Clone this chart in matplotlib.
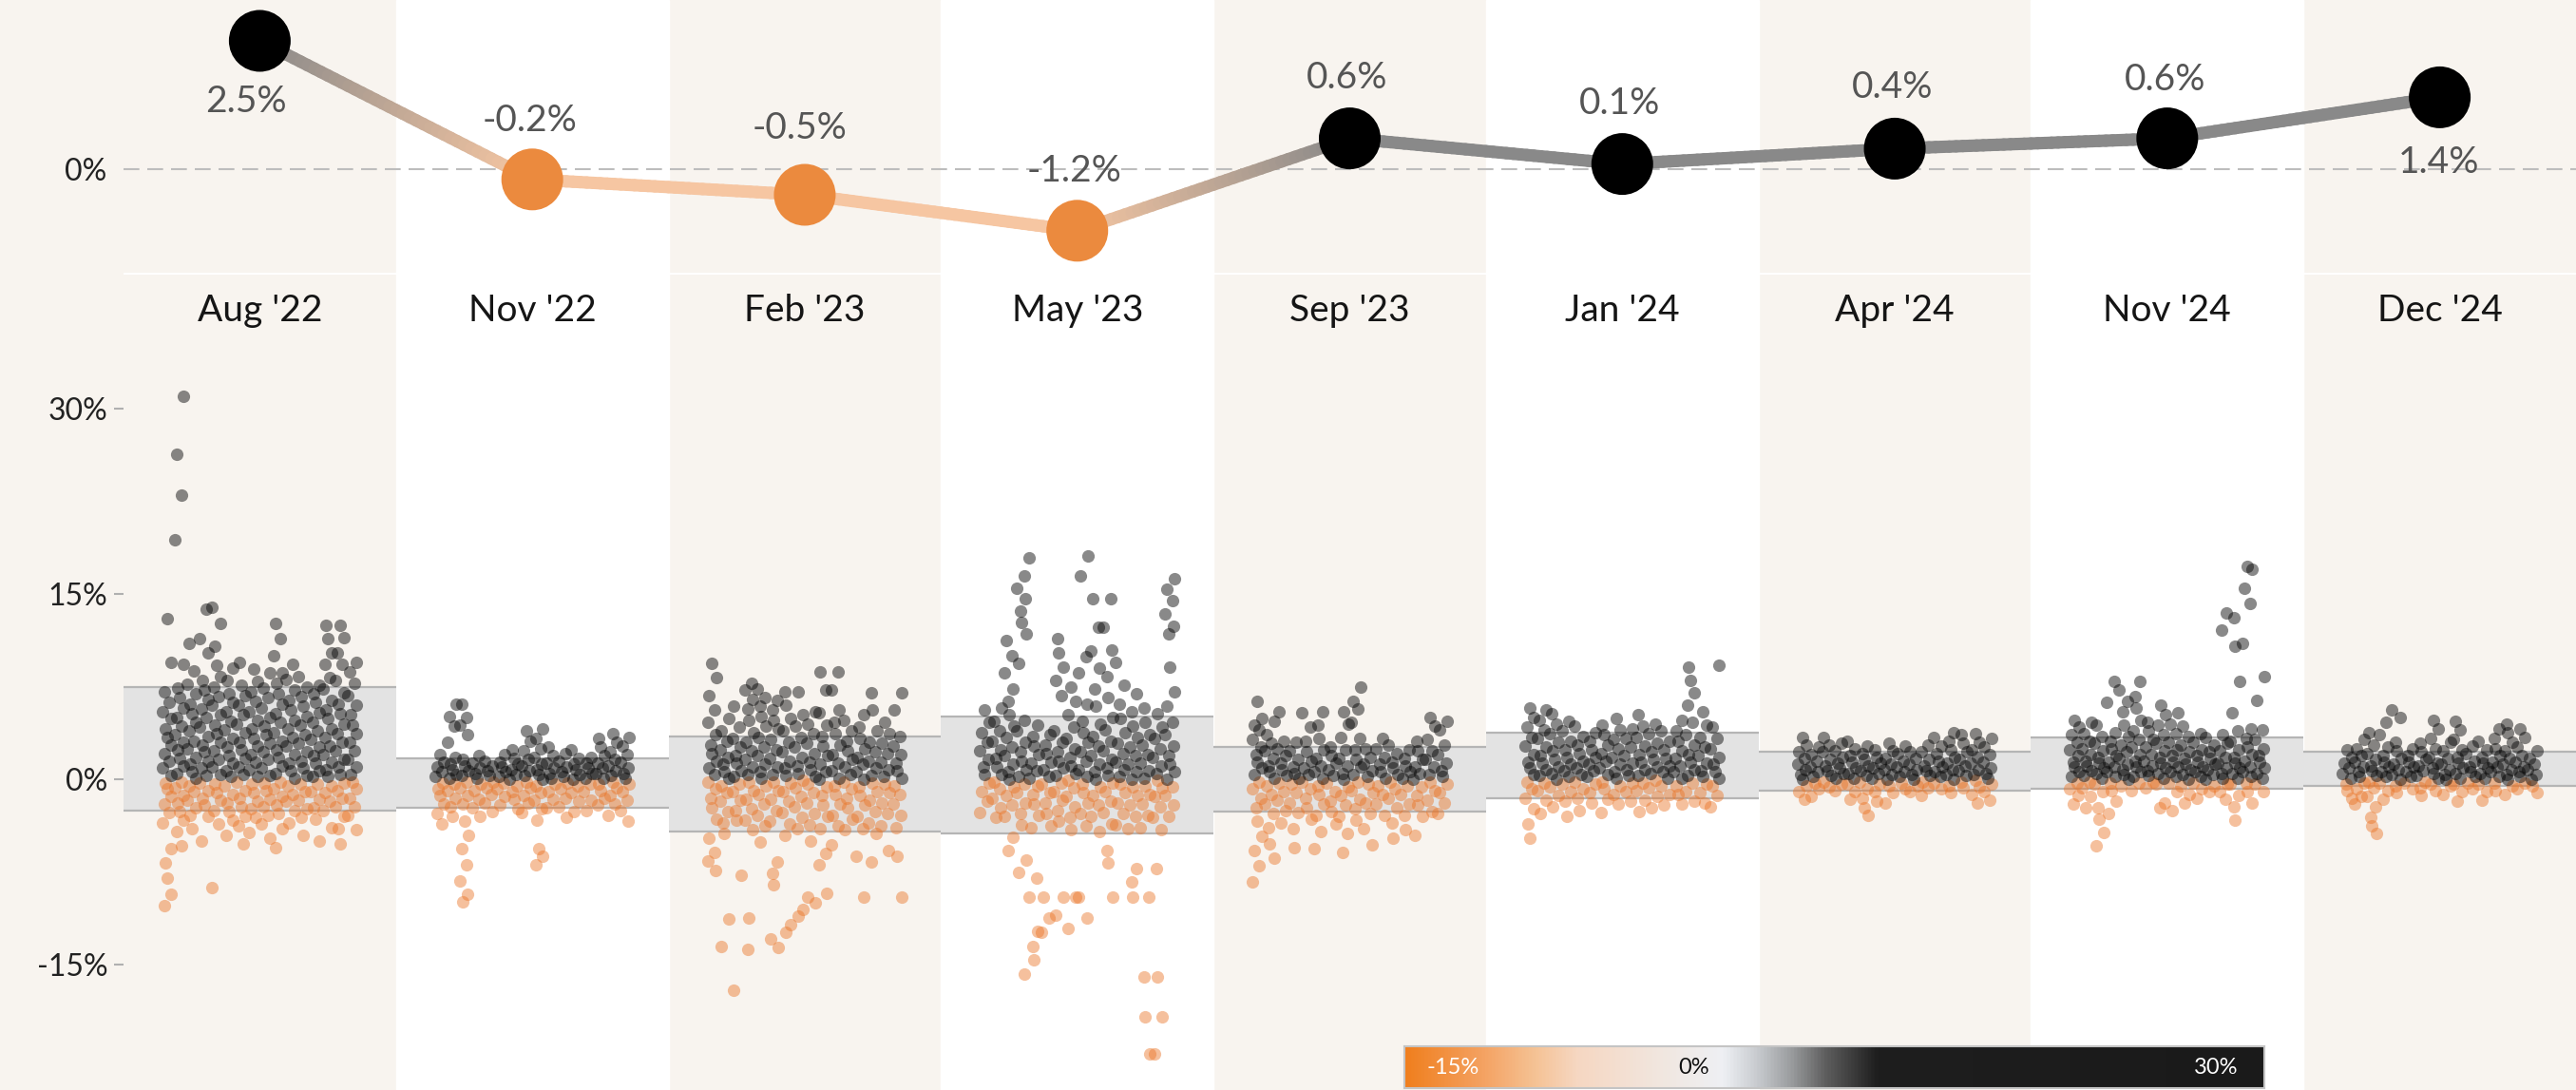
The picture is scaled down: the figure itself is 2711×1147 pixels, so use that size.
import numpy as np
import matplotlib
matplotlib.use('Agg')
import matplotlib.pyplot as plt
from matplotlib.collections import LineCollection
from matplotlib.colors import LinearSegmentedColormap, to_rgb

plt.rcParams['font.family'] = ['Lato', 'DejaVu Sans']

# ---- data -------------------------------------------------------------
months = ["Aug '22", "Nov '22", "Feb '23", "May '23", "Sep '23",
          "Jan '24", "Apr '24", "Nov '24", "Dec '24"]
change = [2.5, -0.2, -0.5, -1.2, 0.6, 0.1, 0.4, 0.6, 1.4]

# grey band per release (upper / lower edge, %)
box_top = [7.5, 1.7, 3.5, 5.1, 2.6, 3.8, 2.2, 3.4, 2.2]
box_bottom = [-2.5, -2.3, -4.2, -4.4, -2.6, -1.5, -0.9, -0.8, -0.5]

# individual changes (%), one list per vertical streak, left to right
aug22 = [
    [13.0, 9.5, 7.1, 6.2, 5.5, 4.9, 4.1, 3.4, 2.8, 2.1, 1.5, 0.9, 0.3, -0.3, -0.8, -1.4, -2.0, -2.7, -3.5, -5.6, -6.8, -8.0, -9.3, -10.2],
    [31.0, 26.3, 23.0, 19.4, 9.3, 7.4, 6.6, 5.8, 5.0, 4.3, 3.6, 3.0, 2.4, 1.7, 1.1, 0.5, -0.2, -0.7, -1.3, -1.9, -2.6, -3.3, -4.2, -5.4],
    [11.0, 8.8, 7.7, 6.9, 6.1, 5.3, 4.6, 3.9, 3.1, 2.5, 1.8, 1.2, 0.6, 0.1, -0.5, -1.0, -1.7, -2.3, -2.9, -4.0],
    [13.8, 11.4, 10.2, 8.0, 7.2, 6.5, 5.7, 5.0, 4.2, 3.5, 2.8, 2.2, 1.5, 0.9, 0.3, -0.3, -0.9, -1.5, -2.1, -3.0, -5.0],
    [13.9, 12.6, 10.8, 9.2, 8.3, 7.5, 6.7, 6.0, 5.2, 4.4, 3.7, 3.0, 2.3, 1.6, 1.0, 0.4, -0.4, -1.1, -1.7, -2.5, -3.6, -8.8],
    [9.0, 8.0, 6.9, 6.2, 5.5, 4.7, 4.0, 3.3, 2.6, 1.9, 1.3, 0.7, 0.2, -0.5, -1.2, -1.9, -2.6, -3.3, -4.5],
    [9.5, 7.6, 6.8, 6.0, 5.2, 4.5, 3.8, 3.0, 2.4, 1.7, 1.0, 0.4, -0.2, -0.9, -1.5, -2.2, -3.0, -3.8, -5.2],
    [8.9, 7.9, 7.1, 6.3, 5.5, 4.8, 4.1, 3.3, 2.7, 2.0, 1.4, 0.8, 0.2, -0.4, -1.1, -1.8, -2.4, -3.1, -4.3],
    [8.6, 7.4, 6.6, 5.8, 5.0, 4.3, 3.6, 2.9, 2.2, 1.6, 0.9, 0.3, -0.3, -0.9, -1.6, -2.2, -2.9, -3.6, -4.8],
    [12.6, 11.4, 10.0, 8.6, 7.8, 6.9, 6.1, 5.3, 4.6, 3.8, 3.1, 2.4, 1.8, 1.1, 0.5, -0.2, -0.8, -1.4, -2.1, -2.8, -4.0, -5.5],
    [9.3, 8.1, 7.2, 6.4, 5.6, 4.8, 4.1, 3.4, 2.7, 2.0, 1.3, 0.7, 0.1, -0.5, -1.2, -1.8, -2.5, -3.5],
    [8.3, 7.5, 6.7, 5.9, 5.1, 4.4, 3.6, 2.9, 2.2, 1.5, 0.9, 0.3, -0.4, -1.0, -1.7, -2.4, -3.1, -4.5],
    [7.6, 6.9, 6.2, 5.4, 4.6, 3.9, 3.2, 2.6, 1.9, 1.3, 0.7, 0.2, -0.4, -1.0, -1.6, -2.3, -3.2, -5.0],
    [12.5, 11.4, 10.2, 9.3, 8.2, 7.3, 6.4, 5.6, 4.9, 4.1, 3.4, 2.7, 2.0, 1.4, 0.8, 0.2, -0.5, -1.1, -1.8, -2.5, -3.9],
    [12.5, 11.5, 10.2, 9.3, 8.0, 7.0, 6.1, 5.3, 4.5, 3.7, 3.0, 2.3, 1.6, 1.0, 0.4, -0.3, -0.9, -1.5, -2.2, -3.0, -4.0, -5.2],
    [9.5, 8.7, 7.8, 6.8, 6.0, 5.2, 4.4, 3.7, 3.0, 2.3, 1.6, 1.0, 0.4, -0.2, -0.8, -1.5, -2.2, -2.9, -4.1],
]
nov22 = [
    [2.0, 1.4, 1.0, 0.6, 0.2, -0.3, -0.8, -1.3, -2.0, -2.8, -3.6],
    [6.1, 5.1, 4.3, 3.0, 1.8, 1.2, 0.8, 0.4, 0.1, -0.4, -0.9, -1.5, -2.2, -3.0],
    [6.1, 5.0, 4.4, 3.6, 1.6, 1.1, 0.7, 0.3, -0.2, -0.7, -1.3, -2.0, -3.4, -4.5, -5.6, -6.9, -8.2, -9.3, -9.9],
    [1.9, 1.3, 0.9, 0.5, 0.1, -0.4, -0.9, -1.6, -2.3, -3.0],
    [1.5, 1.1, 0.7, 0.3, -0.2, -0.7, -1.2, -1.9, -2.6],
    [2.0, 1.4, 1.0, 0.6, 0.2, -0.3, -0.8, -1.4, -2.1],
    [2.4, 1.7, 1.2, 0.8, 0.4, 0.0, -0.5, -1.0, -1.6, -2.4],
    [3.9, 3.1, 2.3, 1.6, 1.1, 0.7, 0.3, -0.2, -0.7, -1.3, -1.9, -2.7],
    [4.1, 3.3, 2.5, 1.8, 1.2, 0.8, 0.4, 0.0, -0.5, -1.1, -1.7, -2.4, -3.3, -5.6, -6.2, -6.9],
    [2.6, 1.9, 1.3, 0.9, 0.5, 0.1, -0.4, -1.0, -1.6, -2.3],
    [2.1, 1.5, 1.0, 0.6, 0.2, -0.3, -0.8, -1.5, -2.2, -3.1],
    [2.4, 1.7, 1.2, 0.8, 0.4, 0.0, -0.5, -1.1, -1.8, -2.6],
    [1.8, 1.3, 0.9, 0.5, 0.1, -0.4, -1.0, -1.7, -2.5],
    [3.3, 2.6, 1.9, 1.3, 0.9, 0.5, 0.1, -0.4, -0.9, -1.5, -2.1],
    [3.7, 3.0, 2.2, 1.6, 1.1, 0.7, 0.3, -0.2, -0.7, -1.3, -2.0, -2.9],
    [3.4, 2.7, 2.0, 1.4, 0.9, 0.5, 0.1, -0.4, -1.0, -1.7, -2.5, -3.4],
]
feb23 = [
    [9.4, 8.2, 6.8, 5.6, 4.6, 3.6, 2.8, 2.1, 1.5, 0.9, 0.4, -0.2, -0.8, -1.5, -2.3, -3.2, -4.8, -5.9, -6.6, -7.4],
    [4.9, 3.9, 3.1, 2.4, 1.8, 1.2, 0.6, 0.1, -0.5, -1.1, -1.8, -2.6, -3.5, -4.4, -11.3, -13.5],
    [5.9, 4.2, 3.3, 2.6, 1.9, 1.3, 0.7, 0.2, -0.4, -1.0, -1.7, -2.5, -3.3, -7.8, -17.1],
    [7.8, 7.2, 6.5, 5.7, 4.8, 3.8, 3.0, 2.3, 1.6, 1.0, 0.4, -0.2, -0.9, -1.6, -2.4, -3.3, -4.1, -13.8, -11.2],
    [7.3, 6.6, 5.9, 5.1, 4.3, 3.4, 2.6, 1.9, 1.2, 0.6, 0.1, -0.5, -1.2, -2.0, -2.9, -3.8, -5.1],
    [6.4, 5.6, 4.8, 4.1, 3.2, 2.4, 1.7, 1.0, 0.4, -0.2, -0.9, -1.6, -2.5, -3.4, -6.7, -7.6, -8.5, -13.6, -12.9],
    [7.1, 6.0, 4.9, 3.9, 3.0, 2.2, 1.5, 0.9, 0.3, -0.3, -1.0, -1.8, -2.7, -3.6, -4.5, -12.4, -11.8],
    [7.1, 5.2, 4.3, 3.4, 2.6, 1.8, 1.1, 0.5, -0.1, -0.7, -1.4, -2.2, -3.1, -4.0, -11.1, -10.5],
    [5.5, 4.5, 3.7, 2.9, 2.1, 1.4, 0.8, 0.2, -0.4, -1.1, -1.9, -2.8, -3.7, -5.0, -10.0, -9.5],
    [8.7, 7.2, 5.4, 4.4, 3.5, 2.7, 1.9, 1.2, 0.6, 0.0, -0.6, -1.3, -2.1, -3.0, -4.0, -6.0, -6.9, -9.2],
    [8.7, 7.2, 5.6, 4.6, 3.7, 2.8, 2.0, 1.3, 0.7, 0.1, -0.5, -1.2, -2.0, -2.9, -3.8, -5.3],
    [4.8, 3.9, 3.1, 2.3, 1.6, 1.0, 0.4, -0.2, -0.8, -1.5, -2.3, -3.2, -4.1],
    [5.2, 4.2, 3.3, 2.5, 1.8, 1.2, 0.6, 0.0, -0.6, -1.3, -2.1, -3.0, -4.0, -6.2, -9.5],
    [7.0, 5.6, 3.9, 3.0, 2.2, 1.5, 0.9, 0.3, -0.3, -1.0, -1.7, -2.6, -3.5, -4.4, -6.7],
    [4.6, 3.7, 2.9, 2.1, 1.4, 0.8, 0.2, -0.4, -1.1, -1.9, -2.8, -3.8, -5.8],
    [7.0, 5.6, 3.5, 2.7, 2.0, 1.3, 0.7, 0.1, -0.5, -1.2, -2.0, -2.9, -3.9, -6.2, -9.5],
]
may23 = [
    [5.6, 4.6, 3.8, 3.0, 2.3, 1.6, 1.0, 0.4, -0.3, -1.0, -1.8, -2.7],
    [5.8, 4.7, 3.9, 3.1, 2.4, 1.7, 1.0, 0.4, -0.2, -0.8, -1.5, -2.3, -3.1],
    [11.2, 10.0, 8.6, 7.3, 6.3, 5.2, 4.3, 3.4, 2.6, 1.9, 1.2, 0.6, 0.0, -0.6, -1.3, -2.1, -3.0, -4.7, -5.8],
    [16.5, 15.5, 14.6, 13.6, 12.7, 11.8, 9.4, 4.8, 3.9, 3.0, 2.2, 1.5, 0.8, 0.2, -0.4, -1.1, -1.9, -2.8, -3.7, -6.5, -7.5, -15.8],
    [17.9, 4.4, 3.5, 2.7, 2.0, 1.3, 0.7, 0.1, -0.5, -1.2, -2.0, -2.9, -3.9, -8.0, -9.5, -12.3, -13.5, -14.6],
    [3.6, 2.8, 2.1, 1.4, 0.8, 0.2, -0.4, -1.1, -1.9, -2.8, -3.8, -9.5, -11.2, -12.4],
    [11.4, 10.2, 9.1, 8.0, 6.8, 3.9, 3.0, 2.2, 1.5, 0.9, 0.3, -0.3, -1.0, -1.7, -2.5, -3.4, -9.5, -11.0],
    [7.5, 6.3, 5.2, 4.2, 3.3, 2.5, 1.8, 1.1, 0.5, -0.1, -0.7, -1.4, -2.2, -3.1, -4.1, -9.5, -12.1],
    [18.1, 16.5, 9.9, 8.6, 6.1, 4.7, 3.8, 3.0, 2.2, 1.5, 0.8, 0.2, -0.4, -1.1, -1.9, -2.8, -3.8, -9.5, -11.2],
    [14.6, 12.3, 10.4, 9.0, 7.3, 5.9, 4.5, 3.5, 2.7, 1.9, 1.2, 0.6, 0.0, -0.6, -1.3, -2.1, -3.0, -4.2],
    [14.6, 12.3, 10.5, 8.3, 6.6, 5.0, 4.0, 3.1, 2.3, 1.6, 0.9, 0.3, -0.3, -1.0, -1.8, -2.7, -3.6, -5.8, -6.8, -9.5],
    [9.5, 7.6, 6.1, 4.9, 3.8, 2.9, 2.1, 1.4, 0.8, 0.2, -0.4, -1.1, -1.9, -2.8, -3.7],
    [6.9, 5.5, 4.3, 3.4, 2.6, 1.9, 1.2, 0.6, 0.0, -0.6, -1.3, -2.1, -3.0, -4.0, -7.2, -8.3, -9.5],
    [5.8, 4.6, 3.6, 2.8, 2.0, 1.3, 0.7, 0.1, -0.5, -1.2, -2.0, -2.9, -3.9, -9.5, -16.0, -19.2, -22.2],
    [5.3, 4.2, 3.3, 2.5, 1.8, 1.1, 0.5, -0.1, -0.7, -1.4, -2.2, -3.1, -4.1, -7.2, -16.0, -19.2, -22.2],
    [16.2, 15.4, 14.5, 13.4, 12.4, 11.8, 9.1, 7.1, 5.9, 4.6, 3.6, 2.7, 1.9, 1.2, 0.6, 0.0, -0.6, -1.3, -2.1, -3.0],
]
sep23 = [
    [6.3, 4.9, 4.4, 4.0, 3.2, 2.6, 2.0, 1.4, 0.9, 0.4, -0.2, -0.8, -1.5, -2.3, -3.4, -4.6, -5.8, -7.0, -8.3],
    [4.7, 3.6, 2.9, 2.3, 1.7, 1.1, 0.6, 0.1, -0.5, -1.2, -2.0, -2.8, -3.9, -5.2, -6.4],
    [5.5, 3.1, 2.5, 1.9, 1.3, 0.8, 0.3, -0.3, -1.0, -1.7, -2.5, -3.5],
    [3.0, 2.3, 1.6, 1.0, 0.5, 0.1, -0.4, -1.1, -1.9, -2.7, -4.0, -5.5],
    [5.4, 4.2, 3.1, 2.2, 1.5, 0.9, 0.4, -0.2, -0.8, -1.5, -2.3, -3.2],
    [5.5, 4.4, 3.3, 2.4, 1.7, 1.1, 0.6, 0.1, -0.5, -1.2, -2.0, -2.9, -4.2, -5.6],
    [2.6, 1.9, 1.3, 0.8, 0.3, -0.3, -1.0, -1.8, -2.6, -3.6],
    [5.5, 4.5, 3.4, 2.4, 1.7, 1.1, 0.5, 0.0, -0.6, -1.3, -2.1, -3.0, -4.4, -5.9],
    [7.5, 6.3, 5.7, 4.6, 3.3, 2.4, 1.6, 1.0, 0.4, -0.2, -0.9, -1.6, -2.4, -3.3],
    [2.5, 1.8, 1.2, 0.7, 0.2, -0.4, -1.1, -1.9, -2.8, -4.0, -5.3],
    [3.3, 2.5, 1.8, 1.2, 0.6, 0.1, -0.5, -1.2, -2.0, -2.9],
    [2.8, 2.1, 1.4, 0.9, 0.4, -0.2, -0.8, -1.5, -2.3, -3.5, -4.8],
    [2.4, 1.7, 1.1, 0.6, 0.1, -0.5, -1.2, -2.0, -2.9, -4.1],
    [3.1, 2.3, 1.6, 1.0, 0.5, 0.0, -0.6, -1.3, -2.1, -3.0, -4.5],
    [5.0, 4.3, 3.2, 2.3, 1.6, 1.0, 0.4, -0.2, -0.9, -1.7, -2.6],
    [4.7, 4.0, 2.8, 2.0, 1.3, 0.7, 0.2, -0.4, -1.1, -1.9, -2.8],
]
jan24 = [
    [5.8, 5.0, 4.2, 3.4, 2.7, 2.0, 1.4, 0.9, 0.4, -0.2, -0.8, -1.5, -2.4, -3.6, -4.8],
    [5.6, 4.8, 4.0, 3.3, 2.6, 1.9, 1.3, 0.8, 0.3, -0.3, -0.9, -1.7, -2.8],
    [5.3, 4.5, 3.7, 3.0, 2.3, 1.6, 1.0, 0.5, 0.0, -0.6, -1.3, -2.2],
    [4.7, 3.9, 3.1, 2.4, 1.8, 1.2, 0.7, 0.2, -0.4, -1.0, -1.8, -3.0],
    [4.3, 3.5, 2.8, 2.1, 1.5, 0.9, 0.4, -0.2, -0.8, -1.5, -2.5],
    [3.8, 3.1, 2.4, 1.8, 1.2, 0.7, 0.2, -0.4, -1.1, -1.9],
    [4.4, 3.6, 2.8, 2.1, 1.5, 0.9, 0.4, -0.2, -0.8, -1.6, -2.7],
    [4.9, 4.0, 3.2, 2.5, 1.8, 1.2, 0.6, 0.1, -0.5, -1.2, -2.0],
    [4.1, 3.3, 2.6, 1.9, 1.3, 0.8, 0.3, -0.3, -1.0, -1.8],
    [5.2, 4.3, 3.4, 2.7, 2.0, 1.4, 0.8, 0.3, -0.3, -0.9, -1.7, -2.6],
    [4.5, 3.7, 2.9, 2.2, 1.6, 1.0, 0.5, -0.1, -0.7, -1.4, -2.3],
    [3.9, 3.1, 2.4, 1.7, 1.1, 0.6, 0.1, -0.5, -1.2, -2.1],
    [4.8, 3.9, 3.1, 2.3, 1.7, 1.1, 0.6, 0.1, -0.5, -1.2, -2.0],
    [9.1, 8.0, 7.0, 6.0, 4.6, 3.6, 2.8, 2.0, 1.4, 0.8, 0.3, -0.3, -1.0, -1.8],
    [5.5, 4.4, 3.4, 2.6, 1.9, 1.3, 0.7, 0.2, -0.4, -1.1, -1.9],
    [9.2, 4.2, 3.3, 2.5, 1.8, 1.2, 0.6, 0.1, -0.5, -1.3, -2.2],
]
apr24 = [
    [3.4, 2.8, 2.2, 1.7, 1.2, 0.8, 0.4, 0.0, -0.5, -1.0, -1.6],
    [2.6, 2.0, 1.5, 1.0, 0.6, 0.2, -0.3, -0.8, -1.4],
    [3.4, 2.8, 2.2, 1.6, 1.1, 0.7, 0.3, -0.2, -0.6],
    [2.9, 2.3, 1.8, 1.3, 0.9, 0.5, 0.1, -0.4, -0.9],
    [3.1, 2.5, 1.9, 1.4, 0.9, 0.5, 0.1, -0.4, -1.0, -1.6],
    [2.7, 2.1, 1.6, 1.1, 0.7, 0.3, -0.2, -0.8, -1.5, -2.3, -2.9],
    [2.4, 1.8, 1.3, 0.9, 0.5, 0.1, -0.4, -1.0, -1.8],
    [2.9, 2.3, 1.7, 1.2, 0.8, 0.4, 0.0, -0.5, -1.1, -1.9],
    [2.7, 2.1, 1.5, 1.0, 0.6, 0.2, -0.3, -0.8],
    [2.2, 1.7, 1.2, 0.8, 0.4, 0.0, -0.5, -1.0],
    [2.8, 2.2, 1.6, 1.1, 0.7, 0.3, -0.2, -0.7, -1.3],
    [3.4, 2.7, 2.1, 1.5, 1.0, 0.6, 0.2, -0.3, -0.8],
    [3.8, 3.1, 2.4, 1.8, 1.3, 0.8, 0.4, 0.0, -0.5, -1.1],
    [3.6, 2.9, 2.2, 1.6, 1.1, 0.7, 0.3, -0.2, -0.7],
    [3.7, 3.0, 2.4, 1.8, 1.3, 0.8, 0.4, -0.1, -0.6, -1.2, -1.9],
    [3.3, 2.6, 2.0, 1.4, 0.9, 0.5, 0.1, -0.4, -1.0, -1.7],
]
nov24 = [
    [4.8, 4.2, 3.6, 3.0, 2.4, 1.9, 1.4, 1.0, 0.6, 0.2, -0.3, -0.8, -1.3, -2.0],
    [4.6, 3.7, 3.1, 2.5, 2.0, 1.5, 1.1, 0.7, 0.3, -0.2, -0.7, -1.4, -2.3],
    [4.4, 3.5, 2.9, 2.3, 1.8, 1.3, 0.9, 0.5, 0.1, -0.4, -1.0, -2.3, -3.2, -4.3, -5.4],
    [7.9, 6.2, 3.8, 3.1, 2.5, 1.9, 1.4, 1.0, 0.6, 0.2, -0.3, -0.9, -1.8, -2.8],
    [7.2, 6.3, 5.5, 4.4, 3.5, 2.8, 2.2, 1.7, 1.2, 0.8, 0.4, 0.0, -0.5],
    [7.9, 6.7, 5.8, 4.8, 3.9, 3.2, 2.6, 2.0, 1.5, 1.0, 0.6, 0.2, -0.3, -0.9],
    [4.6, 3.9, 3.2, 2.6, 2.0, 1.5, 1.1, 0.7, 0.3, -0.2, -0.7],
    [6.0, 5.2, 4.4, 3.6, 2.9, 2.3, 1.8, 1.3, 0.9, 0.5, 0.1, -0.4, -1.9, -2.3],
    [5.4, 4.5, 3.7, 3.0, 2.4, 1.9, 1.4, 1.0, 0.6, 0.2, -0.3, -1.0, -2.5],
    [4.3, 3.5, 2.8, 2.2, 1.7, 1.2, 0.8, 0.4, 0.0, -0.5, -1.2, -1.9],
    [3.7, 3.0, 2.4, 1.9, 1.4, 1.0, 0.6, 0.2, -0.3, -0.8, -1.5],
    [3.4, 2.8, 2.2, 1.7, 1.2, 0.8, 0.4, 0.0, -0.5, -1.0],
    [13.5, 12.1, 3.6, 2.9, 2.3, 1.8, 1.3, 0.9, 0.5, 0.1, -0.4, -1.0, -1.6],
    [13.1, 10.8, 7.9, 5.4, 3.9, 3.1, 2.4, 1.8, 1.3, 0.9, 0.5, 0.1, -0.4, -1.3, -2.2, -3.3],
    [17.2, 17.0, 15.5, 14.2, 11.0, 4.1, 3.3, 2.6, 2.0, 1.5, 1.0, 0.6, 0.2, -0.3, -1.0, -1.9],
    [8.3, 6.4, 4.0, 3.2, 2.5, 1.9, 1.4, 0.9, 0.5, 0.1, -0.4, -1.0],
]
dec24 = [
    [2.4, 1.8, 1.3, 0.9, 0.5, 0.1, -0.4, -0.9, -1.5],
    [3.2, 2.5, 1.9, 1.4, 1.0, 0.6, 0.2, -0.3, -0.8, -1.4, -2.0],
    [3.8, 2.8, 2.1, 1.6, 1.1, 0.7, 0.3, -0.2, -0.7, -1.4, -2.2, -3.1, -3.8, -4.4],
    [4.6, 3.6, 2.6, 1.9, 1.4, 1.0, 0.6, 0.2, -0.3, -0.9, -1.6],
    [5.6, 5.0, 3.0, 2.3, 1.7, 1.2, 0.8, 0.4, 0.0, -0.5, -1.1],
    [2.5, 1.9, 1.4, 1.0, 0.6, 0.2, -0.3, -0.8],
    [2.9, 2.2, 1.6, 1.1, 0.7, 0.3, -0.2, -0.7, -1.3],
    [4.8, 4.1, 3.3, 2.5, 1.8, 1.3, 0.9, 0.5, 0.1, -0.4, -0.9],
    [3.0, 2.3, 1.7, 1.2, 0.8, 0.4, 0.0, -0.5, -1.2],
    [4.7, 4.0, 3.2, 2.4, 1.8, 1.3, 0.9, 0.5, 0.1, -0.4, -1.0, -1.8],
    [2.7, 2.1, 1.5, 1.0, 0.6, 0.2, -0.3, -0.8],
    [3.1, 2.4, 1.8, 1.3, 0.9, 0.5, 0.1, -0.4, -1.0, -1.7],
    [4.1, 3.3, 2.5, 1.9, 1.4, 1.0, 0.6, 0.2, -0.3, -0.9],
    [4.5, 3.8, 3.0, 2.3, 1.7, 1.2, 0.8, 0.4, 0.0, -0.5, -1.2],
    [4.1, 3.4, 2.6, 1.9, 1.4, 1.0, 0.6, 0.2, -0.3, -0.8],
    [2.3, 1.7, 1.2, 0.8, 0.4, 0.0, -0.5, -1.1],
]
releases = [aug22, nov22, feb23, may23, sep23, jan24, apr24, nov24, dec24]

# ---- styling ------------------------------------------------------------
W, H = 2711, 1147
LEFT = 130           # px where the plot area starts
BEIGE = '#f8f4ef'
ORANGE = '#eb8a3e'
LINE_POS = '#898989'
LINE_NEG = '#f6c6a2'

fig = plt.figure(figsize=(W / 100, H / 100), dpi=100)
unit = (W - LEFT) / 9.0

# background columns
bg = fig.add_axes([0, 0, 1, 1])
bg.set_xlim(-0.5 - LEFT / unit, 8.5)
bg.set_ylim(0, 1)
bg.set_facecolor(BEIGE)
bg.axis('off')
bg.add_patch(plt.Rectangle((-0.5 - LEFT / unit, 0), LEFT / unit + 9.5, 1,
                           color=BEIGE, zorder=0))
for i in range(1, 9, 2):
    bg.axvspan(i - 0.5, i + 0.5, color='white', zorder=1)
bg.hlines(1 - 288 / H, -0.5, 8.5, color='white', lw=1.5, zorder=2)

# month labels
for i, m in enumerate(months):
    bg.text(i, 1 - 327 / H, m, ha='center', va='center', fontsize=28,
            color='#151515', zorder=3)

# ---- top: average change line --------------------------------------------
ax_top = fig.add_axes([LEFT / W, 1 - 288 / H, 1 - LEFT / W, 288 / H])
ax_top.set_facecolor('none')
ax_top.set_xlim(-0.5, 8.5)
ax_top.set_ylim(-110 / 54, 178 / 54)
for s in ax_top.spines.values():
    s.set_visible(False)
ax_top.set_xticks([])
ax_top.set_yticks([0])
ax_top.set_yticklabels(['0%'])
ax_top.tick_params(axis='y', length=0, pad=13, labelsize=23, labelcolor='#222222')
ax_top.axhline(0, color='#bdbdbd', lw=1.5, ls=(0, (8, 4)), zorder=1)

segs, seg_cols = [], []
n_sub = 40
for i in range(len(change) - 1):
    v0, v1 = change[i], change[i + 1]
    c0 = np.array(to_rgb(LINE_POS if v0 > 0 else LINE_NEG))
    c1 = np.array(to_rgb(LINE_POS if v1 > 0 else LINE_NEG))
    for k in range(n_sub):
        t0, t1 = k / n_sub, (k + 1) / n_sub
        segs.append([(i + t0, v0 + (v1 - v0) * t0), (i + t1, v0 + (v1 - v0) * t1)])
        seg_cols.append(c0 + (c1 - c0) * (t0 + t1) / 2)
ax_top.add_collection(LineCollection(segs, colors=seg_cols, linewidths=9.4,
                                     capstyle='round', zorder=2))
dot_cols = ['black' if v > 0 else ORANGE for v in change]
ax_top.scatter(range(len(change)), change, s=2190, c=dot_cols, lw=0,
               zorder=3, clip_on=False)

label_dy = [-64, 62, 70, 63, 64, 64, 64, 62, -69]
label_dx = [-14, -3, -5, -3, -3, -3, -2, -2, -1]
for i, v in enumerate(change):
    ax_top.annotate(f'{v:.1f}%', (i, v), xytext=(label_dx[i], label_dy[i]),
                    textcoords='offset pixels', ha='center', va='center',
                    fontsize=28, color='#555555', zorder=4)

# ---- bottom: individual changes ------------------------------------------
ax = fig.add_axes([LEFT / W, 0, 1 - LEFT / W, (H - 375) / H])
ax.set_facecolor('none')
ax.set_xlim(-0.5, 8.5)
ax.set_ylim(-327 / 13, 445 / 13)
for s in ax.spines.values():
    s.set_visible(False)
ax.set_xticks([])
ax.set_yticks([30, 15, 0, -15])
ax.set_yticklabels(['30%', '15%', '0%', '-15%'])
ax.tick_params(axis='y', length=7, width=1.5, color='#b0b0b0', pad=5,
               labelsize=23, labelcolor='#222222')

for i in range(len(months)):
    ax.fill_between([i - 0.5, i + 0.5], box_bottom[i], box_top[i],
                    color='#e3e3e3', lw=0, zorder=1)
    ax.hlines([box_top[i], box_bottom[i]], i - 0.5, i + 0.5,
              color='#b5b5b5', lw=1.6, zorder=2)

streak_pos = np.linspace(-0.34, 0.34, 16)
zig = [0.0, 0.016, -0.011, 0.008, -0.017, 0.013, -0.005]
for i, rel in enumerate(releases):
    xs, ys = [], []
    for j, streak in enumerate(rel):
        for k, v in enumerate(streak):
            xs.append(i + streak_pos[j] + zig[(k + j) % len(zig)])
            ys.append(v)
    xs, ys = np.array(xs), np.array(ys)
    neg = ys < 0
    ax.scatter(xs[neg], ys[neg], s=90, color='#ea7426', alpha=0.45, lw=0, zorder=3)
    ax.scatter(xs[~neg], ys[~neg], s=90, color='#050505', alpha=0.47, lw=0, zorder=4)

# ---- colour legend ------------------------------------------------------
lg = fig.add_axes([1478 / W, 1 - 1145 / H, (2383 - 1478) / W, 44 / H])
cmap = LinearSegmentedColormap.from_list('leg', [
    (0.0, '#f07f1e'), (0.09, '#f4a262'), (0.15, '#f5c294'), (0.2, '#f6d7c2'),
    (0.3, '#f1e7e0'), (0.37, '#eef0f4'), (0.41, '#c8cbcf'), (0.45, '#9a9c9e'),
    (0.49, '#5e5e5e'), (0.55, '#1e1e1e'), (1.0, '#1a1a1a')])
lg.imshow(np.linspace(0, 1, 512)[None, :], aspect='auto', cmap=cmap,
          extent=(-15, 30, 0, 1))
lg.set_xticks([])
lg.set_yticks([])
for s in lg.spines.values():
    s.set_color('#c4c4c4')
    s.set_linewidth(1.5)
lg.text(0.057, 0.48, '-15%', transform=lg.transAxes, ha='center', va='center',
        fontsize=17, color='white')
lg.text(0.337, 0.48, '0%', transform=lg.transAxes, ha='center', va='center',
        fontsize=17, color='#111111')
lg.text(0.944, 0.48, '30%', transform=lg.transAxes, ha='center', va='center',
        fontsize=17, color='white')

fig.savefig('out.png', dpi=100)
